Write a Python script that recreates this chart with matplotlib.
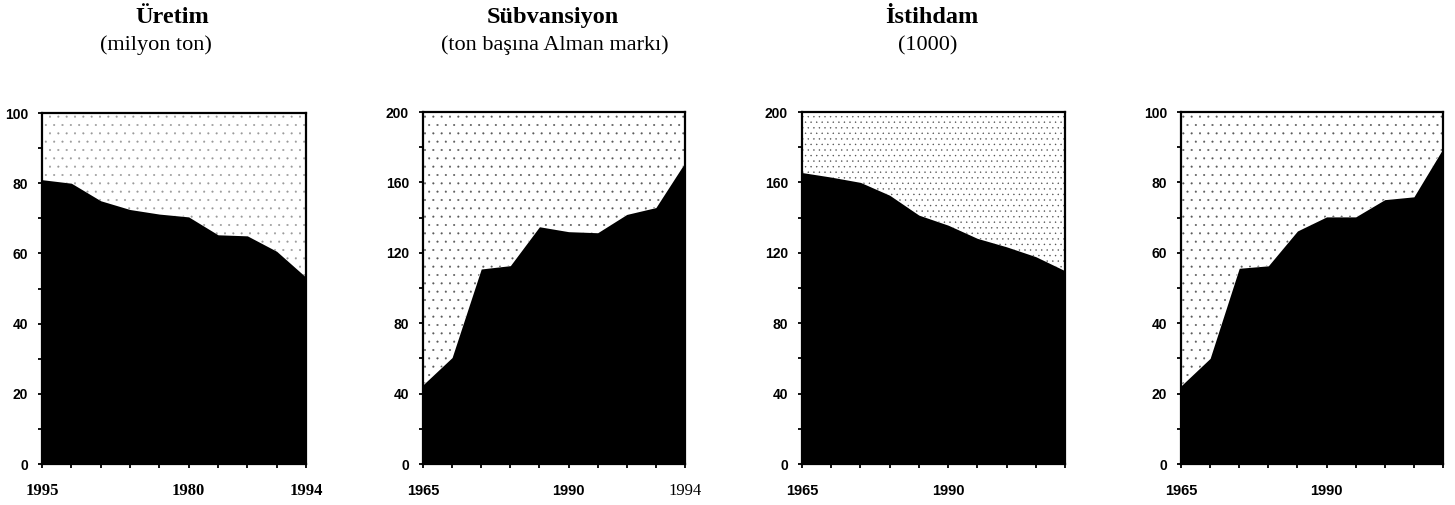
import matplotlib
matplotlib.use("Agg")
import matplotlib.pyplot as plt
from matplotlib.ticker import MultipleLocator

# ---- data ----
years = [1985, 1986, 1987, 1988, 1989, 1990, 1991, 1992, 1993, 1994]
uretim = [81, 80, 75, 72.5, 71.2, 70.4, 65.3, 65, 60.6, 53.2]
subvansiyon = [45, 60.5, 110.8, 112.7, 134.8, 132, 131.4, 141.8, 145.7, 171.3]
istihdam = [165.6, 163, 160, 152.7, 141.4, 135.7, 128.2, 123.4, 117.8, 109.8]
dordungu = [22.2, 30, 55.6, 56.3, 66.2, 70.2, 70.2, 75.1, 75.9, 89.6]

titles = ["Üretim", "Sübvansiyon", "İstihdam", ""]
subtitles = ["(milyon ton)", "(ton başına Alman markı)", "(1000)", ""]
ymaxes = [100, 200, 200, 100]
ymajor = [20, 40, 40, 20]
xlabel_years = [[1985, 1990, 1994], [1985, 1990, 1994], [1985, 1990], [1985, 1990]]
xlabel_texts = [["1995", "1980", "1994"], ["1965", "1990", "1994"], ["1965", "1990"], ["1965", "1990"]]
series = [uretim, subvansiyon, istihdam, dordungu]

plt.rcParams["hatch.linewidth"] = 0.25

W, H = 1455, 505
fig = plt.figure(figsize=(W / 100, H / 100), dpi=100)

boxes = [(42, 306, 113, 464), (423, 685, 112, 464), (802, 1065, 112, 464), (1181, 1443, 112, 464)]
title_x = [172, 553, 932, None]
sub_x = [156, 555, 928, None]
hatches = ["..", "..", "...", ".."]
hatch_colors = ["0.6", "0.35", "0.3", "0.35"]

serif = "Liberation Serif"
narrow = ["Liberation Sans Narrow", "Liberation Sans"]

for i in range(4):
    l, r, t, b = boxes[i]
    ax = fig.add_axes([l / W, 1 - b / H, (r - l) / W, (b - t) / H])
    ax.fill_between(years, series[i], ymaxes[i], facecolor="none", edgecolor=hatch_colors[i],
                    hatch=hatches[i], linewidth=0)
    ax.fill_between(years, 0, series[i], color="black", linewidth=0)
    ax.set_xlim(years[0], years[-1])
    ax.set_ylim(0, ymaxes[i])
    ax.yaxis.set_major_locator(MultipleLocator(ymajor[i]))
    ax.yaxis.set_minor_locator(MultipleLocator(ymajor[i] / 2))
    ax.set_xticks(years)
    ax.set_xticklabels([])
    for s in ax.spines.values():
        s.set_linewidth(1.6)
    ax.tick_params(axis="both", which="both", direction="out", width=1.3, length=3)
    ax.tick_params(axis="y", pad=7)
    for lab in ax.get_yticklabels():
        lab.set_family(narrow)
        lab.set_fontweight("bold")
        lab.set_fontsize(10)
    for yr, txt in zip(xlabel_years[i], xlabel_texts[i]):
        if i == 0:
            fam, wt, fs = serif, "bold", 12
        elif i == 1 and txt == "1994":
            fam, wt, fs = serif, "normal", 12
        else:
            fam, wt, fs = "Liberation Sans", "bold", 10.5
        ax.text(yr, -0.076, txt, transform=ax.get_xaxis_transform(), ha="center",
                va="center", family=fam, fontweight=wt, fontsize=fs)
    if titles[i]:
        fig.text(title_x[i] / W, 1 - 23 / H, titles[i], ha="center", va="baseline",
                 family=serif, fontweight="bold", fontsize=17.5)
        fig.text(sub_x[i] / W, 1 - 50 / H, subtitles[i], ha="center", va="baseline",
                 family=serif, fontsize=16)

fig.savefig("out.png", dpi=100)
